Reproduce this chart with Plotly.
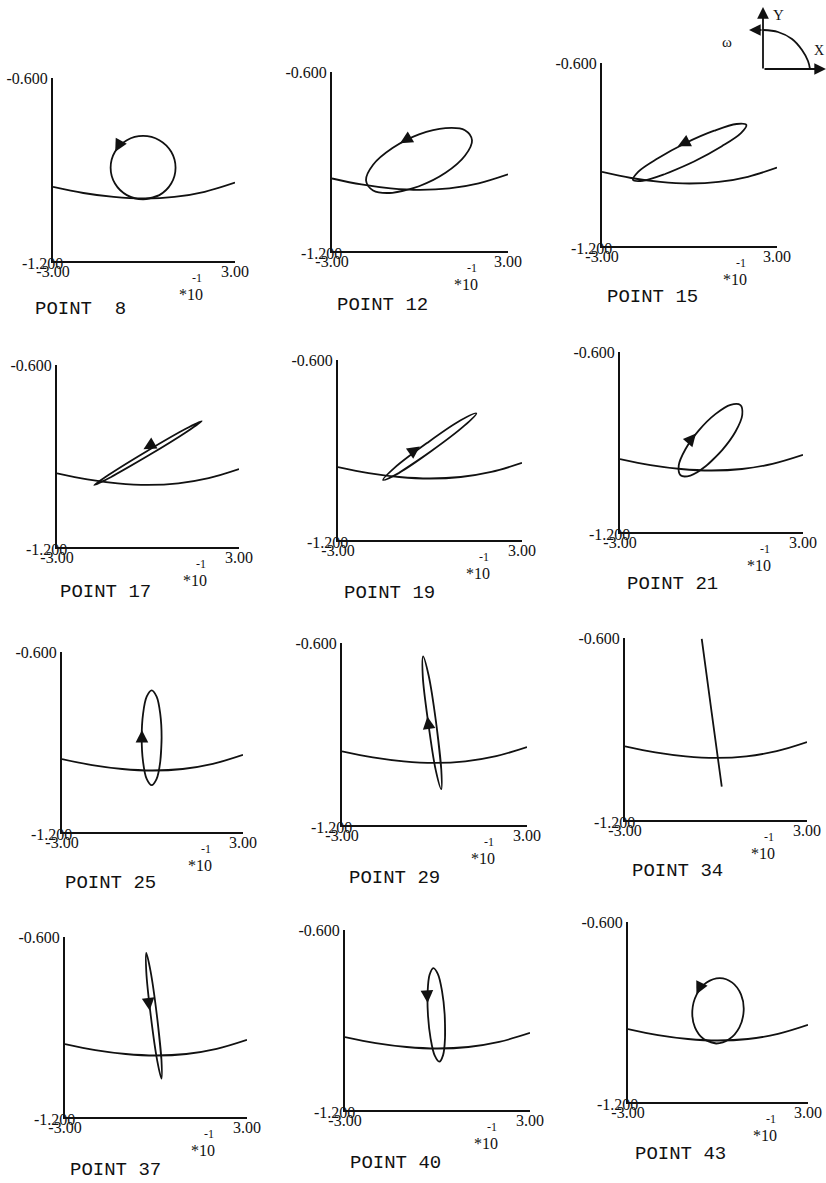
import plotly.graph_objects as go

# ---------------- data ----------------
# common "bowl" curve (x in units of 1e-1, y)
bowl_x = [-3.0, -2.0, -1.0, 0.0, 1.0, 2.0, 3.0]
bowl_y = [-0.957, -0.977, -0.990, -0.995, -0.990, -0.973, -0.943]

# orbit outlines, one pair of lists per panel
orbit8_x = [-0.03, 0.505, 0.897, 1.04, 0.897, 0.505, -0.03, -0.565, -0.957, -1.10, -0.957, -0.565]
orbit8_y = [-0.998, -0.984, -0.946, -0.894, -0.842, -0.804, -0.790, -0.804, -0.842, -0.894, -0.946, -0.984]
orbit12_x = [-0.938, -0.034, 0.870, 1.531, 1.773, 1.531, 0.870, -0.034, -0.938, -1.599, -1.841, -1.599]
orbit12_y = [-1.005, -0.983, -0.938, -0.881, -0.829, -0.795, -0.788, -0.809, -0.855, -0.911, -0.963, -0.997]
orbit15_x = [0.156, -0.836, -1.602, -1.937, -1.752, -1.096, -0.144, 0.848, 1.614, 1.949, 1.764, 1.108]
orbit15_y = [-0.923, -0.964, -0.986, -0.983, -0.956, -0.913, -0.863, -0.822, -0.800, -0.803, -0.830, -0.873]
orbit17_x = [0.04, -1.23, -1.77, -1.28, -0.04, 1.23, 1.77, 1.28]
orbit17_y = [-0.897, -0.970, -0.996, -0.961, -0.884, -0.811, -0.785, -0.820]
orbit19_x = [0.08, -1.02, -1.53, -1.15, -0.10, 1.00, 1.51, 1.12]
orbit19_y = [-0.901, -0.977, -1.000, -0.959, -0.877, -0.801, -0.778, -0.819]
orbit21_x = [0.349, -0.193, -0.692, -1.015, -1.074, -0.855, -0.415, 0.127, 0.626, 0.949, 1.008, 0.789]
orbit21_y = [-0.927, -0.981, -1.012, -1.011, -0.978, -0.924, -0.861, -0.807, -0.776, -0.777, -0.810, -0.865]
orbit25_x = [0.302, 0.258, 0.137, -0.028, -0.193, -0.314, -0.358, -0.314, -0.193, -0.028, 0.137, 0.258]
orbit25_y = [-0.886, -0.965, -1.023, -1.044, -1.023, -0.965, -0.886, -0.807, -0.749, -0.728, -0.749, -0.807]
orbit29_x = [0.05, 0.22, 0.22, 0.04, -0.20, -0.38, -0.37, -0.19]
orbit29_y = [-0.861, -1.017, -1.082, -1.019, -0.865, -0.710, -0.644, -0.707]
orbit34_x = [-0.47, -0.14, 0.19]
orbit34_y = [-0.603, -0.848, -1.090]
orbit37_x = [0.03, 0.18, 0.18, 0.04, -0.17, -0.32, -0.32, -0.18]
orbit37_y = [-0.862, -1.010, -1.072, -1.012, -0.864, -0.716, -0.653, -0.714]
orbit40_x = [0.232, 0.244, 0.181, 0.059, -0.089, -0.223, -0.308, -0.320, -0.257, -0.135, 0.013, 0.147]
orbit40_y = [-0.881, -0.959, -1.017, -1.039, -1.019, -0.962, -0.885, -0.807, -0.749, -0.727, -0.747, -0.804]
orbit43_x = [-0.06, -0.476, -0.769, -0.856, -0.713, -0.380, 0.06, 0.476, 0.769, 0.856, 0.713, 0.380]
orbit43_y = [-1.005, -0.990, -0.951, -0.896, -0.842, -0.802, -0.787, -0.802, -0.842, -0.896, -0.951, -0.990]

panel_names = ["POINT  8", "POINT 12", "POINT 15", "POINT 17", "POINT 19", "POINT 21",
               "POINT 25", "POINT 29", "POINT 34", "POINT 37", "POINT 40", "POINT 43"]
orbit_closed = [True, True, True, True, True, True, True, True, False, True, True, True]

# direction arrows on the orbits (tip and direction)
arrow_x = [-0.95, -0.68, -0.40, -0.15, -0.33, -0.51, -0.35, -0.23, None, -0.21, -0.32, -0.72]
arrow_y = [-0.842, -0.839, -0.873, -0.878, -0.888, -0.872, -0.860, -0.842, None, -0.845, -0.843, -0.841]
arrow_dx = [-0.144, -0.26, -0.27, -0.26, 0.244, 0.196, 0.0, -0.041, None, 0.036, 0.017, -0.132]
arrow_dy = [-0.026, -0.015, -0.013, -0.015, 0.0176, 0.0228, 0.03, 0.030, None, -0.030, -0.030, -0.027]

x_tick_vals = [-3.0, 3.0]
x_tick_text = ["-3.00", "3.00"]
y_tick_vals = [-0.6]
y_tick_text = ["-0.600"]
y_low_val = -1.2
y_low_text = "-1.200"
x_range = [-3.0, 3.0]
y_range = [-1.2, -0.6]

# small coordinate-system sketch (top-right corner)
inset_arc_x = [23, 38, 52, 62, 68, 70]
inset_arc_y = [30, 32, 39, 50, 61, 69]

orbit_xs = [orbit8_x, orbit12_x, orbit15_x, orbit17_x, orbit19_x, orbit21_x,
            orbit25_x, orbit29_x, orbit34_x, orbit37_x, orbit40_x, orbit43_x]
orbit_ys = [orbit8_y, orbit12_y, orbit15_y, orbit17_y, orbit19_y, orbit21_y,
            orbit25_y, orbit29_y, orbit34_y, orbit37_y, orbit40_y, orbit43_y]

# ---------------- layout (page pixels) ----------------
W, H = 826, 1183
# (left, right, top, bottom) of each panel's axes
BOXES = [(53, 235, 78, 261), (332, 508, 72, 251), (602, 777, 63, 246),
         (57, 239, 365, 547), (338, 522, 360, 540), (620, 803, 352, 532),
         (62, 243, 652, 832), (342, 527, 643, 825), (625, 807, 638, 820),
         (65, 247, 937, 1117), (345, 530, 930, 1110), (628, 808, 922, 1102)]
LABELS = [(33, 309), (335, 305), (605, 297), (58, 592), (342, 593), (625, 584),
          (63, 883), (347, 878), (630, 871), (68, 1170), (348, 1163), (633, 1154)]

SERIF = "Liberation Serif"
MONO = "Liberation Mono"
INK = "#111111"

fig = go.Figure()
layout = dict(width=W, height=H, margin=dict(l=0, r=0, t=0, b=0), autosize=False,
              paper_bgcolor="white", plot_bgcolor="rgba(0,0,0,0)", showlegend=False,
              template="none")
annotations = []

for i, (x0, x1, yt, yb) in enumerate(BOXES):
    s = "" if i == 0 else str(i + 1)
    xr, yr = "x" + s, "y" + s
    layout["xaxis" + s] = dict(
        domain=[x0 / W, x1 / W], range=x_range, anchor=yr, showline=True, linecolor=INK,
        linewidth=2, showgrid=False, zeroline=False, tickvals=x_tick_vals,
        ticktext=x_tick_text, ticks="inside", ticklen=3, tickwidth=1.5, tickcolor=INK,
        ticklabelstandoff=-5,
        tickfont=dict(family=SERIF, size=16, color=INK), automargin=False, fixedrange=True)
    layout["yaxis" + s] = dict(
        domain=[1 - yb / H, 1 - yt / H], range=y_range, anchor=xr, showline=True,
        linecolor=INK, linewidth=2, showgrid=False, zeroline=False, tickvals=y_tick_vals,
        ticktext=y_tick_text, ticks="inside", ticklen=4, tickwidth=1.5, tickcolor=INK,
        tickfont=dict(family=SERIF, size=16, color=INK), automargin=False, fixedrange=True)

    fig.add_trace(go.Scatter(x=bowl_x, y=bowl_y, mode="lines", xaxis=xr, yaxis=yr,
                             line=dict(color=INK, width=1.8, shape="spline", smoothing=1.0),
                             hoverinfo="skip"))
    ox, oy = orbit_xs[i], orbit_ys[i]
    if orbit_closed[i]:
        ox = ox + ox[:2]
        oy = oy + oy[:2]
    fig.add_trace(go.Scatter(x=ox, y=oy, mode="lines", xaxis=xr, yaxis=yr,
                             line=dict(color=INK, width=1.8, shape="spline", smoothing=1.0),
                             hoverinfo="skip"))

    if arrow_x[i] is not None:
        annotations.append(dict(
            x=arrow_x[i], y=arrow_y[i], ax=arrow_x[i] - arrow_dx[i], ay=arrow_y[i] - arrow_dy[i],
            xref=xr, yref=yr, axref=xr, ayref=yr, text="", showarrow=True, arrowhead=2,
            arrowsize=1.4, arrowwidth=1.8, arrowcolor=INK, standoff=0))

    # lower y label (sits over the x-axis start)
    annotations.append(dict(x=x_range[0], y=y_low_val, xref=xr, yref=yr, text=y_low_text,
                            showarrow=False, xanchor="right", yanchor="middle", xshift=12,
                            yshift=-2, font=dict(family=SERIF, size=16, color=INK)))
    # *10^-1 multiplier
    annotations.append(dict(x=1.56, y=0, xref=xr, yref=yr + " domain", text="*10",
                            showarrow=False, xanchor="center", yanchor="middle", yshift=-33,
                            font=dict(family=SERIF, size=16, color=INK)))
    annotations.append(dict(x=1.56, y=0, xref=xr, yref=yr + " domain", text="-1",
                            showarrow=False, xanchor="center", yanchor="middle", yshift=-17,
                            xshift=6, font=dict(family=SERIF, size=12, color=INK)))
    # panel title
    lx, ly = LABELS[i]
    annotations.append(dict(x=lx / W, y=1 - ly / H, xref="paper", yref="paper",
                            text=panel_names[i].replace(" ", "&nbsp;"), showarrow=False,
                            xanchor="left", yanchor="middle",
                            font=dict(family=MONO, size=19, color=INK)))

# ---------------- coordinate sketch inset ----------------
layout["xaxis13"] = dict(domain=[740 / W, 1.0], range=[0, 86], anchor="y13", visible=False,
                         fixedrange=True)
layout["yaxis13"] = dict(domain=[1 - 80 / H, 1.0], range=[80, 0], anchor="x13", visible=False,
                         fixedrange=True)
fig.add_trace(go.Scatter(x=inset_arc_x, y=inset_arc_y, mode="lines", xaxis="x13", yaxis="y13",
                         line=dict(color=INK, width=1.8, shape="spline"), hoverinfo="skip",
                         cliponaxis=False))
for (tx, ty, hx, hy) in [(23, 70, 23, 7), (23, 69, 86, 69), (23, 30, 9, 30)]:
    annotations.append(dict(x=hx, y=hy, ax=tx, ay=ty, xref="x13", yref="y13", axref="x13",
                            ayref="y13", text="", showarrow=True, arrowhead=2, arrowsize=1.3,
                            arrowwidth=1.8, arrowcolor=INK, standoff=0))
annotations.append(dict(x=38, y=15, xref="x13", yref="y13", text="Y", showarrow=False,
                        font=dict(family=SERIF, size=15, color=INK)))
annotations.append(dict(x=86, y=50, xref="x13", yref="y13", text="X", showarrow=False,
                        xanchor="right", font=dict(family=SERIF, size=14, color=INK)))
annotations.append(dict(x=734 / W, y=1 - 32 / H, xref="paper", yref="paper", text="ω",
                        showarrow=False, font=dict(family=SERIF, size=15, color=INK)))

layout["annotations"] = annotations
fig.update_layout(**layout)
fig.write_html("out.html")
